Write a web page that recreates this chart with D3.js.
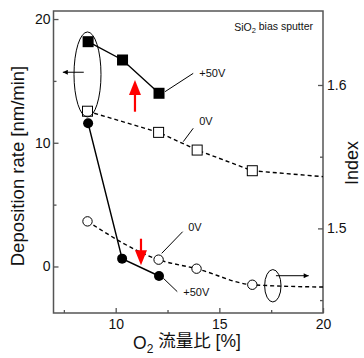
<!DOCTYPE html>
<html><head><meta charset="utf-8">
<script src="https://cdn.jsdelivr.net/npm/d3@7"></script>
<style>
body{margin:0;background:#fff}
svg{display:block}
text{font-family:"Liberation Sans",Arial,"Noto Sans CJK JP",sans-serif;fill:#111}
</style>
</head><body>
<svg id="c" width="364" height="358"></svg>
<script>
// ---- data ----
const xRate50 = [8.67, 10.33, 12.09];          // +50V deposition rate (filled squares)
const rate50  = [18.17, 16.69, 14.0];
const xRate0  = [8.64, 12.07, 13.93, 16.59];   // 0V deposition rate (open squares)
const rate0   = [12.55, 10.84, 9.41, 7.74];
const rate0Tail = [20, 7.26];                  // dashed line continues to right axis
const xIdx50  = [8.67, 10.31, 12.09];          // +50V index (filled circles)
const index50 = [1.5733, 1.4789, 1.4668];
const xIdx0   = [8.64, 12.07, 13.9, 16.59];    // 0V index (open circles)
const index0  = [1.5049, 1.4782, 1.4719, 1.4607];
const index0Tail = [20, 1.4591];
const xTicks = [10, 15, 20], xMinor = [7.5, 12.5, 17.5];
const yLTicks = [0, 10, 20], yLMinor = [5, 15];
const yRTicks = [1.5, 1.6], yRMinor = [1.45, 1.55];
const xDomain = [7, 20], yLDomain = [-3.76, 20.65], yRDomain = [1.441, 1.6516];

// annotations (data units)
const labelsL = [
  {t:"+50V", x:14.03, y:15.34, lx:[12.38,13.74], ly:[14.13,15.61]},
  {t:"0V",   x:14.03, y:11.44, lx:[13.26,13.74], ly:[10.09,11.17]}
];
const labelsR = [
  {t:"0V",   x:13.5,  y:1.4982, lx:[12.22,13.23], ly:[1.4826,1.4977]},
  {t:"+50V", x:13.26, y:1.4531, lx:[12.30,12.97], ly:[1.4652,1.4559]}
];

// ---- layout ----
const L = 53.5, R = 323, T = 11, B = 313;
const svg = d3.select("#c");
const x  = d3.scaleLinear().domain(xDomain).range([L, R]);
const yL = d3.scaleLinear().domain(yLDomain).range([B, T]);
const yR = d3.scaleLinear().domain(yRDomain).range([B, T]);
const axisCol = "#555";

svg.append("defs").append("marker").attr("id","ah").attr("viewBox","0 0 10 10")
  .attr("refX",10).attr("refY",5).attr("markerWidth",7).attr("markerHeight",5)
  .attr("markerUnits","userSpaceOnUse").attr("orient","auto")
  .append("path").attr("d","M0,0L10,5L0,10z").attr("fill","#000");

// axes
function styleAxis(g){
  g.select(".domain").remove();
  g.selectAll("line").attr("stroke",axisCol).attr("stroke-width",1.3);
  g.selectAll("text").style("font-size","14px").attr("fill","#111");
}
svg.append("g").attr("transform",`translate(${L},0)`)
  .call(d3.axisLeft(yL).tickValues(yLTicks).tickSize(-5).tickPadding(3).tickFormat(d3.format("d"))).call(styleAxis);
svg.append("g").attr("transform",`translate(${L},0)`)
  .call(d3.axisLeft(yL).tickValues(yLMinor).tickSize(-3).tickFormat("")).call(styleAxis);
svg.append("g").attr("transform",`translate(${R},0)`)
  .call(d3.axisRight(yR).tickValues(yRTicks).tickSize(-5).tickPadding(4).tickFormat(d3.format(".1f"))).call(styleAxis);
svg.append("g").attr("transform",`translate(${R},0)`)
  .call(d3.axisRight(yR).tickValues(yRMinor).tickSize(-3).tickFormat("")).call(styleAxis);
svg.append("g").attr("transform",`translate(0,${B})`)
  .call(d3.axisBottom(x).tickValues(xTicks).tickSize(-5).tickPadding(6).tickFormat(d3.format("d"))).call(styleAxis);
svg.append("g").attr("transform",`translate(0,${B})`)
  .call(d3.axisBottom(x).tickValues(xMinor).tickSize(-3).tickFormat("")).call(styleAxis);
svg.append("rect").attr("x",L).attr("y",T).attr("width",R-L).attr("height",B-T)
  .attr("fill","none").attr("stroke",axisCol).attr("stroke-width",1.5);

// axis titles
svg.append("text").attr("transform",`translate(23.5,${(T+B)/2 + 4}) rotate(-90)`)
  .attr("text-anchor","middle").style("font-size","18.5px").text("Deposition rate [nm/min]");
svg.append("text").attr("transform",`translate(358,163) rotate(-90)`)
  .attr("text-anchor","middle").style("font-size","18px").text("Index");
const xt = svg.append("text").attr("x",187).attr("y",349).attr("text-anchor","middle").style("font-size","17.5px");
xt.append("tspan").text("O");
xt.append("tspan").attr("dy","0.3em").style("font-size","12px").text("2");
xt.append("tspan").attr("dy","-0.3em").text(" 流量比 [%]");

// title
const tt = svg.append("text").attr("x",x(19.52)).attr("y",31).attr("text-anchor","end").style("font-size","10.5px");
tt.append("tspan").text("SiO");
tt.append("tspan").attr("dy","0.3em").style("font-size","7.5px").text("2");
tt.append("tspan").attr("dy","-0.3em").text(" bias sputter");

// lines
const lineL = d3.line().x(d=>x(d[0])).y(d=>yL(d[1]));
const lineR = d3.line().x(d=>x(d[0])).y(d=>yR(d[1]));
const lineRc = d3.line().x(d=>x(d[0])).y(d=>yR(d[1])).curve(d3.curveMonotoneX);
const zip = (a,b)=>a.map((v,i)=>[v,b[i]]);
const dash = "4,3";

svg.append("path").attr("d", lineL(zip(xRate0,rate0).concat([rate0Tail])))
  .attr("fill","none").attr("stroke","#000").attr("stroke-width",1.4).attr("stroke-dasharray",dash);
svg.append("path").attr("d", lineRc(zip(xIdx0,index0).concat([index0Tail])))
  .attr("fill","none").attr("stroke","#000").attr("stroke-width",1.4).attr("stroke-dasharray",dash);
svg.append("path").attr("d", lineL(zip(xRate50,rate50)))
  .attr("fill","none").attr("stroke","#000").attr("stroke-width",1.4);
svg.append("path").attr("d", lineR(zip(xIdx50,index50)))
  .attr("fill","none").attr("stroke","#000").attr("stroke-width",1.4);

// markers
svg.selectAll(".sq0").data(zip(xRate0,rate0)).join("rect")
  .attr("x",d=>x(d[0])-5).attr("y",d=>yL(d[1])-5).attr("width",10).attr("height",10)
  .attr("fill","#fff").attr("stroke","#000").attr("stroke-width",1);
svg.selectAll(".sq50").data(zip(xRate50,rate50)).join("rect")
  .attr("x",d=>x(d[0])-5.5).attr("y",d=>yL(d[1])-5.5).attr("width",11).attr("height",11)
  .attr("fill","#000");
svg.selectAll(".ci0").data(zip(xIdx0,index0)).join("circle")
  .attr("cx",d=>x(d[0])).attr("cy",d=>yR(d[1])).attr("r",4.7)
  .attr("fill","#fff").attr("stroke","#000").attr("stroke-width",1);
svg.selectAll(".ci50").data(zip(xIdx50,index50)).join("circle")
  .attr("cx",d=>x(d[0])).attr("cy",d=>yR(d[1])).attr("r",5)
  .attr("fill","#000");

// labels with leader lines
function addLabels(arr, ys){
  arr.forEach(d=>{
    svg.append("line").attr("x1",x(d.lx[0])).attr("y1",ys(d.ly[0])).attr("x2",x(d.lx[1])).attr("y2",ys(d.ly[1]))
      .attr("stroke","#000").attr("stroke-width",1);
    svg.append("text").attr("x",x(d.x)).attr("y",ys(d.y)).style("font-size","11px").text(d.t);
  });
}
addLabels(labelsL, yL);
addLabels(labelsR, yR);

// ellipses + black arrows
svg.append("ellipse").attr("cx",x(8.64)).attr("cy",yL(15.52)).attr("rx",13.5).attr("ry",42.5)
  .attr("fill","none").attr("stroke","#000").attr("stroke-width",1);
svg.append("line").attr("x1",x(8.46)).attr("y1",yL(15.7)).attr("x2",x(7.45)).attr("y2",yL(15.7))
  .attr("stroke","#000").attr("stroke-width",1).attr("marker-end","url(#ah)");
svg.append("ellipse").attr("cx",x(17.58)).attr("cy",yR(1.4600)).attr("rx",8.2).attr("ry",16.2)
  .attr("fill","none").attr("stroke","#000").attr("stroke-width",1);
svg.append("line").attr("x1",x(17.73)).attr("y1",yR(1.4670)).attr("x2",x(19.31)).attr("y2",yR(1.4670))
  .attr("stroke","#000").attr("stroke-width",1).attr("marker-end","url(#ah)");

// red arrows
function redArrow(px, y1, y2){
  const dir = Math.sign(y2-y1), head = 15, hw = 6;
  svg.append("line").attr("x1",px).attr("y1",y1).attr("x2",px).attr("y2",y2 - dir*head + dir)
    .attr("stroke","#f00").attr("stroke-width",2.2);
  svg.append("path").attr("d",`M${px-hw},${y2-dir*head}L${px+hw},${y2-dir*head}L${px},${y2}Z`).attr("fill","#f00");
}
redArrow(x(10.93), yL(12.51), yL(15.07));
redArrow(x(11.22), yR(1.4928), yR(1.4743));
</script>
</body></html>
